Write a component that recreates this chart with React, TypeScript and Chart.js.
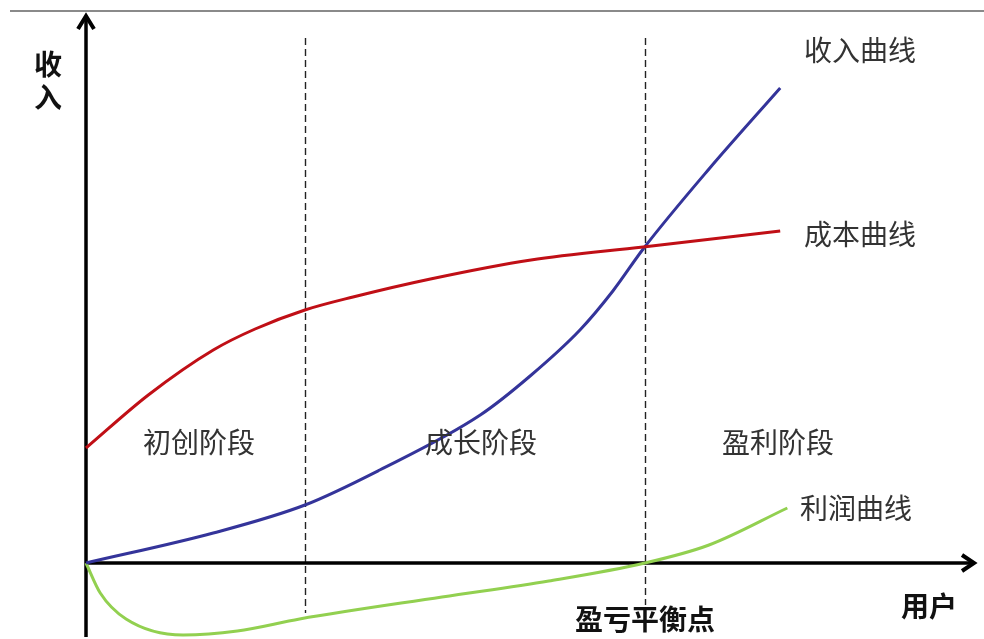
import React, { useEffect, useRef } from "react";
import { Chart, registerables } from "chart.js";

Chart.register(...registerables);

// Users (x) positions of samples and revenue / cost / profit values (y)
const costX = [0, 7, 14.3, 19, 24.6, 30, 38.7, 50, 62.6, 78];
const costY = [11.5, 16.8, 21.3, 23.4, 25.3, 26.6, 28.4, 30.3, 31.6, 33.2];

const revenueX = [0, 14.3, 24.6, 33, 44.3, 49.9, 55.5, 59.2, 62.6, 70, 78];
const revenueY = [0, 3.0, 5.8, 9.3, 14.8, 18.7, 23.3, 27.2, 31.4, 39.4, 47.5];

const profitX = [0, 1.6, 4.5, 10.9, 17, 24, 40, 52, 62.8, 70, 78.8];
const profitY = [0, -3.0, -5.6, -7.2, -6.8, -5.6, -3.4, -1.8, 0, 1.8, 5.5];

const stageBoundaries = [24.6, 62.8];
const stageLabels = ["初创阶段", "成长阶段", "盈利阶段"];
const curveLabels = ["收入曲线", "成本曲线", "利润曲线"];
const xAxisTitle = "用户";
const yAxisTitle = ["收", "入"];
const breakEvenLabel = "盈亏平衡点";

const X_MIN = 0;
const X_MAX = 100;
const Y_MIN = -7.6;
const Y_MAX = 54.5;

const zip = (xs: number[], ys: number[]) => xs.map((x, i) => ({ x, y: ys[i] }));

const FONT = '"Noto Sans CJK SC", "Noto Sans", sans-serif';

const decorPlugin = {
  id: "decor",
  beforeDatasetsDraw(chart: any) {
    const { ctx, chartArea, scales } = chart;
    const xs = scales.x;
    const ys = scales.y;
    const ox = xs.getPixelForValue(0);
    const oy = ys.getPixelForValue(0);
    ctx.save();
    // top rule
    ctx.strokeStyle = "#8a8a8a";
    ctx.lineWidth = 2;
    ctx.beginPath();
    ctx.moveTo(10, 11);
    ctx.lineTo(984, 11);
    ctx.stroke();

    // dashed stage boundaries
    ctx.strokeStyle = "#222";
    ctx.lineWidth = 1.4;
    ctx.setLineDash([7, 4]);
    const dashBottoms = [-5.0, -4.2];
    stageBoundaries.forEach((b, i) => {
      const px = Math.round(xs.getPixelForValue(b)) + 0.5;
      ctx.beginPath();
      ctx.moveTo(px, ys.getPixelForValue(52.5));
      ctx.lineTo(px, ys.getPixelForValue(dashBottoms[i]));
      ctx.stroke();
    });
    ctx.setLineDash([]);

    // axes
    ctx.strokeStyle = "#000";
    ctx.lineWidth = 3.5;
    ctx.lineJoin = "miter";
    ctx.lineCap = "butt";
    ctx.beginPath();
    ctx.moveTo(ox, chartArea.bottom - 2);
    ctx.lineTo(ox, 16);
    ctx.stroke();
    ctx.lineWidth = 4;
    ctx.beginPath();
    ctx.moveTo(ox - 8, 29);
    ctx.lineTo(ox, 16);
    ctx.lineTo(ox + 8, 29);
    ctx.stroke();

    ctx.lineWidth = 3.5;
    ctx.beginPath();
    ctx.moveTo(ox, oy);
    ctx.lineTo(chartArea.right - 2, oy);
    ctx.stroke();
    ctx.lineWidth = 4;
    ctx.beginPath();
    ctx.moveTo(chartArea.right - 14, oy - 8);
    ctx.lineTo(chartArea.right - 2, oy);
    ctx.lineTo(chartArea.right - 14, oy + 8);
    ctx.stroke();
    ctx.restore();
  },
  afterDatasetsDraw(chart: any) {
    const { ctx } = chart;
    ctx.save();
    ctx.textBaseline = "middle";
    ctx.textAlign = "left";
    ctx.fillStyle = "#333";
    ctx.font = `28px ${FONT}`;
    ctx.fillText(curveLabels[0], 804, 50);
    ctx.fillText(curveLabels[1], 804, 234);
    ctx.fillText(curveLabels[2], 800, 508);
    ctx.textAlign = "center";
    ctx.fillText(stageLabels[0], 199, 442);
    ctx.fillText(stageLabels[1], 481, 442);
    ctx.fillText(stageLabels[2], 778, 442);

    ctx.fillStyle = "#111";
    ctx.font = `bold 28px ${FONT}`;
    ctx.fillText(yAxisTitle[0], 48, 64);
    ctx.fillText(yAxisTitle[1], 48, 97);
    ctx.fillText(xAxisTitle, 929, 606);
    ctx.fillText(breakEvenLabel, 645, 619);
    ctx.restore();
  },
};

export default function App() {
  const canvasRef = useRef<HTMLCanvasElement | null>(null);

  useEffect(() => {
    const canvas = canvasRef.current;
    if (!canvas) return;
    const lineDs = (label: string, data: any[], color: string) => ({
      label,
      data,
      borderColor: color,
      backgroundColor: color,
      borderWidth: 3,
      pointRadius: 0,
      cubicInterpolationMode: "monotone" as const,
      fill: false,
      clip: false as any,
    });
    const chart = new Chart(canvas, {
      type: "line",
      data: {
        datasets: [
          lineDs(curveLabels[1], zip(costX, costY), "#c00f16"),
          lineDs(curveLabels[0], zip(revenueX, revenueY), "#34349a"),
          lineDs(curveLabels[2], zip(profitX, profitY), "#92d050"),
        ],
      },
      options: {
        animation: false,
        responsive: false,
        maintainAspectRatio: false,
        devicePixelRatio: 1,
        layout: { padding: { left: 86, right: 8, top: 18, bottom: 0 } },
        plugins: { legend: { display: false }, tooltip: { enabled: false } },
        scales: {
          x: { type: "linear", min: X_MIN, max: X_MAX, display: false },
          y: { type: "linear", min: Y_MIN, max: Y_MAX, display: false },
        },
      },
      plugins: [decorPlugin],
    });
    return () => chart.destroy();
  }, []);

  return (
    <div style={{ position: "absolute", left: 0, top: 0, width: 984, height: 639, background: "#fff" }}>
      <canvas ref={canvasRef} width={984} height={639} style={{ width: 984, height: 639, display: "block" }} />
    </div>
  );
}
